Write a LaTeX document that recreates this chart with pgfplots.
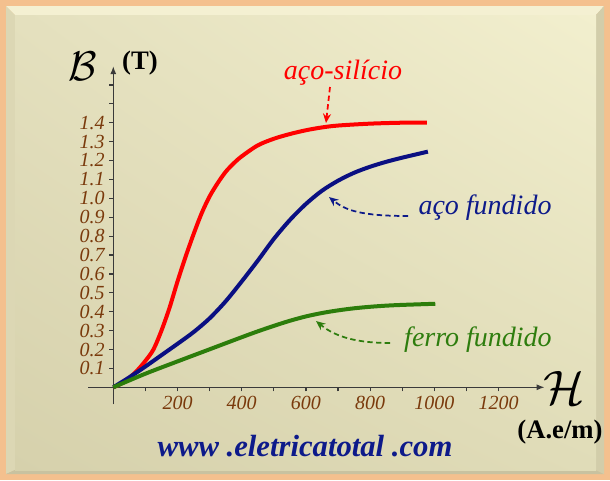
\documentclass[border=0pt]{standalone}
\usepackage{fontspec}
\setmainfont{Liberation Serif}
\usepackage{pgfplots}
\pgfplotsset{compat=1.18}
\usetikzlibrary{arrows.meta,shadings}
\definecolor{peach}{HTML}{F4C08E}
\definecolor{bevtop}{HTML}{F4F0D2}
\definecolor{bevleft}{HTML}{DCD7B4}
\definecolor{bevbot}{HTML}{C8C2A0}
\definecolor{bevright}{HTML}{D2CDAA}
\definecolor{pul}{RGB}{228,224,190}
\definecolor{pur}{RGB}{242,239,206}
\definecolor{pll}{RGB}{214,209,172}
\definecolor{plr}{RGB}{224,220,184}
\definecolor{axisgray}{HTML}{3A3A3A}
\definecolor{tickbrown}{HTML}{7A3A0C}
\definecolor{curvered}{HTML}{FF0000}
\definecolor{curveblue}{HTML}{0A0F82}
\definecolor{curvegreen}{HTML}{2C7D0B}
\definecolor{textblue}{HTML}{0D1A8A}
\definecolor{textgreen}{HTML}{2E7D0E}
\begin{document}
\begin{tikzpicture}[x=0.75pt,y=0.75pt]
\useasboundingbox (0,0) rectangle (610,480);
\fill[peach] (0,0) rectangle (610,480);
\fill[bevtop] (6,474) -- (604,474) -- (596,465) -- (15,465) -- cycle;
\fill[bevleft] (6,6) -- (6,474) -- (15,465) -- (15,10) -- cycle;
\fill[bevbot] (6,6) -- (604,6) -- (596,10) -- (15,10) -- cycle;
\fill[bevright] (604,6) -- (604,474) -- (596,465) -- (596,10) -- cycle;
\shade[upper left=pul, upper right=pur, lower left=pll, lower right=plr]
  (15,10) rectangle (596,465);
\coordinate (O) at (113.3,92.7);
\begin{axis}[
  at={(O)}, anchor=origin,
  x=0.24075pt, y=141.75pt,
  xmin=-78, xmax=1344, ymin=-0.09, ymax=1.70,
  axis lines=middle,
  axis line style={draw=axisgray, line width=1.1pt, -{Latex[length=6pt,width=4.5pt]}},
  xtick={100,200,300,400,500,600,700,800,900,1000,1100,1200},
  xticklabels={,200,,400,,600,,800,,1000,,1200},
  ytick={0.1,0.2,0.3,0.4,0.5,0.6,0.7,0.8,0.9,1.0,1.1,1.2,1.3,1.4,1.5,1.6},
  yticklabels={0.1,0.2,0.3,0.4,0.5,0.6,0.7,0.8,0.9,1.0,1.1,1.2,1.3,1.4,,},
  tick align=outside, major tick length=3pt,
  tick style={draw=axisgray, line width=0.9pt},
  ticklabel style={font=\fontsize{15}{15}\selectfont\itshape, text=tickbrown},
  clip=false,
]
\addplot[curvered, line width=3pt, smooth] coordinates {
(0,0) (25,0.02) (50,0.05) (75,0.09) (100,0.14) (125,0.20) (150,0.30) (175,0.42) (200,0.56) (225,0.69) (250,0.81) (275,0.92) (300,1.01) (325,1.08) (350,1.14) (375,1.185) (400,1.222) (450,1.28) (500,1.315) (550,1.34) (600,1.36) (650,1.375) (700,1.385) (800,1.395) (900,1.40) (977,1.40)};
\addplot[curveblue, line width=3pt, smooth] coordinates {
(0,0) (50,0.053) (100,0.11) (150,0.17) (200,0.23) (250,0.292) (300,0.365) (350,0.455) (400,0.56) (450,0.67) (500,0.785) (550,0.885) (600,0.97) (650,1.04) (700,1.093) (750,1.135) (800,1.167) (850,1.193) (900,1.215) (980,1.247)};
\addplot[curvegreen, line width=3pt, smooth] coordinates {
(0,0) (100,0.072) (200,0.137) (300,0.201) (400,0.265) (450,0.296) (500,0.325) (550,0.352) (600,0.375) (650,0.393) (700,0.407) (750,0.418) (800,0.426) (850,0.432) (900,0.436) (1003,0.442)};
\end{axis}
\draw[curvered, line width=1.3pt, dash pattern=on 4pt off 2.5pt, -{Stealth[length=7pt,width=6pt]}] (330,393) -- (326,357);
\draw[textblue, line width=1.3pt, dash pattern=on 4pt off 2.5pt, -{Stealth[length=7pt,width=6pt]}] (408,264) .. controls (360,264) and (345,270) .. (329,283);
\draw[textgreen, line width=1.3pt, dash pattern=on 4pt off 2.5pt, -{Stealth[length=7pt,width=6pt]}] (390,137) .. controls (350,137) and (332,146) .. (316,159);
\node[text=curvered, font=\fontsize{21}{21}\selectfont\itshape] at (343,407) {aço-silício};
\node[text=textblue, font=\fontsize{21}{21}\selectfont\itshape] at (485,272) {aço fundido};
\node[text=textgreen, font=\fontsize{21}{21}\selectfont\itshape] at (478,140) {ferro fundido};
\node[scale=1.5, font=\fontsize{20}{20}\selectfont] at (83,414) {$\mathcal{B}$};
\node[font=\fontsize{20}{20}\selectfont\bfseries] at (140,417) {(T)};
\node[scale=1.75, font=\fontsize{20}{20}\selectfont] at (564,92) {$\mathcal{H}$};
\node[font=\fontsize{20}{20}\selectfont\bfseries] at (560,48) {(A.e/m)};
\node[text=textblue, font=\fontsize{23}{23}\selectfont\bfseries\itshape] at (305,34) {www .eletricatotal .com};
\end{tikzpicture}
\end{document}
